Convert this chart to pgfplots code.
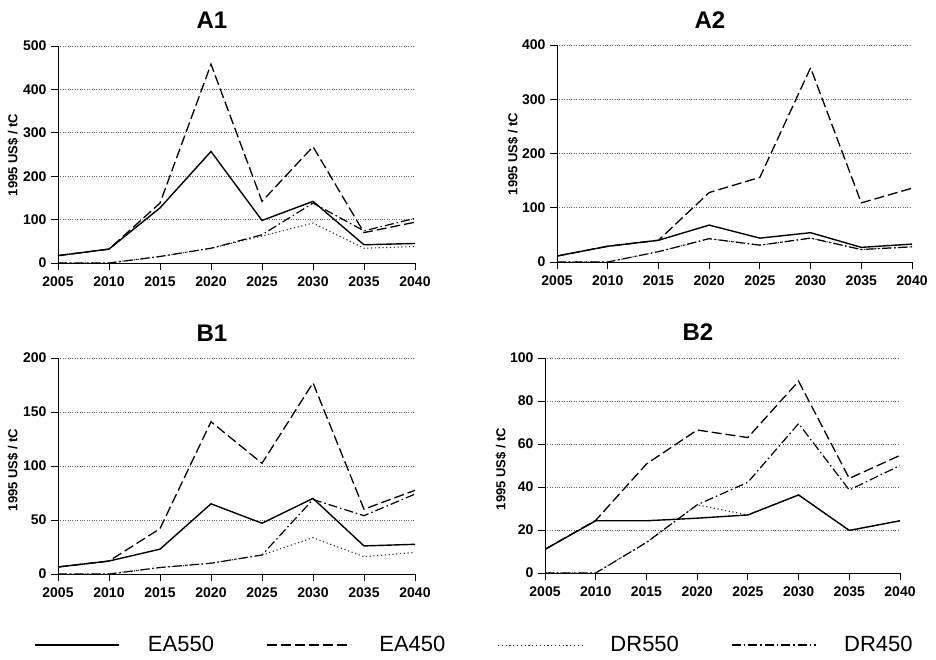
\documentclass[border=0pt]{standalone}
\usepackage{fontspec}
\setmainfont{Liberation Sans}
\usepackage{pgfplots}
\pgfplotsset{compat=1.18}

\pgfplotsset{
 panel/.style={
  scale only axis, width=357pt, height=217pt,
  axis lines*=left, axis line style={black, line width=0.9pt},
  xmin=2005, xmax=2040, xtick={2005,2010,...,2040}, ymin=0,
  ymajorgrids, grid style={dotted, gray!80!black, line width=0.6pt},
  tick align=outside, tick style={black, line width=0.8pt},
  major tick length=7pt,
  /pgf/number format/assume math mode=true,
  /pgf/number format/1000 sep={},
  ticklabel style={font=\bfseries\fontsize{14}{14}\selectfont},
  xticklabel style={yshift=-3pt},
  yticklabel style={xshift=-1pt},
 },
 ea550/.style={black, solid, line width=1.4pt},
 ea450/.style={black, dash pattern=on 10pt off 4pt, line width=1.3pt},
 dr550/.style={black!80, dash pattern=on 1.2pt off 2.6pt, line width=1.1pt},
 dr450/.style={black, dash pattern=on 9pt off 3pt on 1.5pt off 3pt, line width=1.2pt},
}

\begin{document}
\begin{tikzpicture}[x=1pt,y=1pt]
\path (0,0) rectangle (936,659);

% ---------------- A1
\begin{axis}[panel, at={(58pt,396pt)}, anchor=south west, ymax=500, ytick={0,100,...,500}]
\addplot[dr550] coordinates {(2005,0) (2010,0) (2015,15) (2020,34) (2025,62) (2030,92) (2035,34) (2040,38)};
\addplot[dr450] coordinates {(2005,0) (2010,0) (2015,15) (2020,34) (2025,65) (2030,138) (2035,74) (2040,103)};
\addplot[ea450] coordinates {(2005,17) (2010,32) (2015,138) (2020,458) (2025,142) (2030,268) (2035,70) (2040,94)};
\addplot[ea550] coordinates {(2005,17) (2010,32) (2015,127) (2020,257) (2025,98) (2030,142) (2035,42) (2040,45)};
\end{axis}

% ---------------- A2
\begin{axis}[panel, width=355pt, at={(557pt,397pt)}, anchor=south west, ymax=400, ytick={0,100,...,400}]
\addplot[dr550] coordinates {(2005,0) (2010,0) (2015,19) (2020,43) (2025,31) (2030,44) (2035,23) (2040,28)};
\addplot[dr450] coordinates {(2005,0) (2010,0) (2015,19) (2020,43) (2025,31) (2030,44) (2035,23) (2040,28)};
\addplot[ea450] coordinates {(2005,11) (2010,29) (2015,40) (2020,128) (2025,156) (2030,358) (2035,109) (2040,136)};
\addplot[ea550] coordinates {(2005,11) (2010,29) (2015,40) (2020,68) (2025,44) (2030,54) (2035,27) (2040,33)};
\end{axis}

% ---------------- B1
\begin{axis}[panel, height=216pt, at={(58pt,85pt)}, anchor=south west, ymax=200, ytick={0,50,...,200},
  reverse legend, legend columns=4,
  legend image code/.code={\draw[#1] (0pt,0pt) -- (84pt,0pt);},
  legend style={draw=none, fill=none, at={(axis description cs:1.167,-0.329)}, anchor=center,
    font=\fontsize{22}{22}\selectfont, inner sep=0pt,
    /tikz/every odd column/.append style={column sep=26pt},
    /tikz/every even column/.append style={column sep=50pt}}]
\addplot[dr450] coordinates {(2005,0) (2010,0) (2015,6) (2020,10) (2025,17.6) (2030,69) (2035,54) (2040,74)};
\addlegendentry{DR450}
\addplot[dr550] coordinates {(2005,0) (2010,0) (2015,6) (2020,10) (2025,17.6) (2030,33.6) (2035,16) (2040,20)};
\addlegendentry{DR550}
\addplot[ea450] coordinates {(2005,6.5) (2010,12) (2015,42) (2020,141) (2025,102.5) (2030,177) (2035,60) (2040,77.5)};
\addlegendentry{EA450}
\addplot[ea550] coordinates {(2005,6.5) (2010,12) (2015,23) (2020,65) (2025,47) (2030,70) (2035,26) (2040,27.5)};
\addlegendentry{EA550}
\end{axis}

% ---------------- B2
\begin{axis}[panel, width=355pt, height=215pt, at={(545pt,86pt)}, anchor=south west, ymax=100, ytick={0,20,...,100}]
\addplot[dr550] coordinates {(2005,0) (2010,0) (2015,14.2) (2020,31.7) (2025,27) (2030,36.3) (2035,19.8) (2040,24.3)};
\addplot[dr450] coordinates {(2005,0) (2010,0) (2015,14.2) (2020,31.7) (2025,42.2) (2030,69.5) (2035,38.6) (2040,50)};
\addplot[ea450] coordinates {(2005,11) (2010,24.5) (2015,50.7) (2020,66.5) (2025,63) (2030,89.2) (2035,44) (2040,54.7)};
\addplot[ea550] coordinates {(2005,11) (2010,24.3) (2015,24.3) (2020,25.5) (2025,27) (2030,36.3) (2035,19.8) (2040,24.3)};
\end{axis}

% titles
\node[font=\bfseries\fontsize{24}{24}\selectfont] at (212,639) {A1};
\node[font=\bfseries\fontsize{24}{24}\selectfont] at (710,639) {A2};
\node[font=\bfseries\fontsize{24}{24}\selectfont] at (212,326) {B1};
\node[font=\bfseries\fontsize{24}{24}\selectfont] at (698,327) {B2};
% y labels
\node[rotate=90, font=\bfseries\fontsize{13}{13}\selectfont] at (13,504) {1995 US\$ / tC};
\node[rotate=90, font=\bfseries\fontsize{13}{13}\selectfont] at (513,505) {1995 US\$ / tC};
\node[rotate=90, font=\bfseries\fontsize{13}{13}\selectfont] at (13,189) {1995 US\$ / tC};
\node[rotate=90, font=\bfseries\fontsize{13}{13}\selectfont] at (501,190) {1995 US\$ / tC};
\end{tikzpicture}
\end{document}
